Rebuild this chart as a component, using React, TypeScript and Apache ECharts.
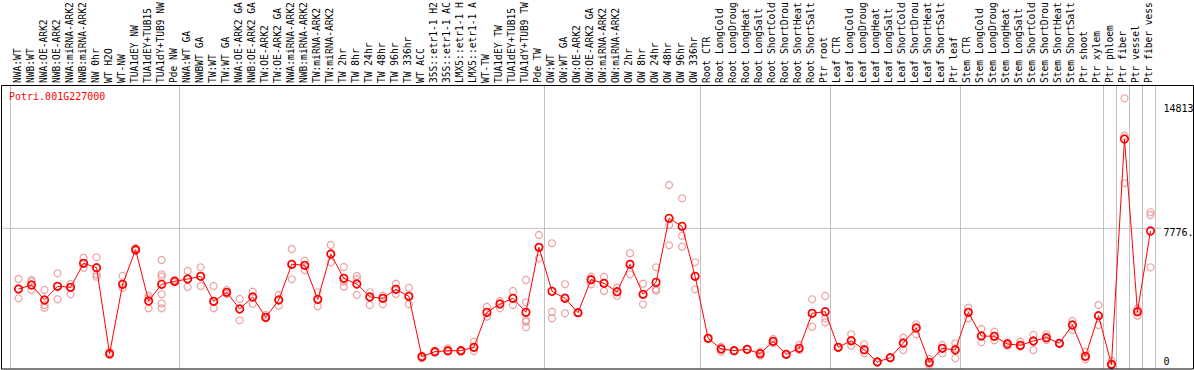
import React, { useEffect, useRef } from "react";
import * as echarts from "echarts";

const geneName = "Potri.001G227000";

const categories = [
  "NWA:WT", "NWB:WT", "NWA:OE-ARK2", "NWB:OE-ARK2", "NWA:miRNA-ARK2", "NWB:miRNA-ARK2",
  "NW 0hr", "WT H2O", "WT-NW", "TUA1dEY NW", "TUA1dEY+TUB15", "TUA1dY+TUB9 NW", "Pde NW",
  "NWA:WT GA", "NWBWT GA", "TW:WT", "TW:WT GA", "NWA:OE-ARK2 GA", "NWB:OE-ARK2 GA",
  "TW:OE-ARK2", "TW:OE-ARK2 GA", "NWA:miRNA-ARK2", "NWB:miRNA-ARK2", "TW:miRNA-ARK2",
  "TW:miRNA-ARK2", "TW 2hr", "TW 8hr", "TW 24hr", "TW 48hr", "TW 96hr", "TW 336hr",
  "WT ACC", "35S::etr1-1 H2", "35S::etr1-1 AC", "LMX5::etr1-1 H", "LMX5::etr1-1 A",
  "WT-TW", "TUA1dEY TW", "TUA1dEY+TUB15", "TUA1dY+TUB9 TW", "Pde TW",
  "OW:WT", "OW:WT GA", "OW:OE-ARK2", "OW:OE-ARK2 GA", "OW:miRNA-ARK2", "OW:miRNA-ARK2",
  "OW 2hr", "OW 8hr", "OW 24hr", "OW 48hr", "OW 96hr", "OW 336hr",
  "Root CTR", "Root LongCold", "Root LongDroug", "Root LongHeat", "Root LongSalt",
  "Root ShortCold", "Root ShortDrou", "Root ShortHeat", "Root ShortSalt", "Ptr root",
  "Leaf CTR", "Leaf LongCold", "Leaf LongDroug", "Leaf LongHeat", "Leaf LongSalt",
  "Leaf ShortCold", "Leaf ShortDrou", "Leaf ShortHeat", "Leaf ShortSalt", "Ptr leaf",
  "Stem CTR", "Stem LongCold", "Stem LongDroug", "Stem LongHeat", "Stem LongSalt",
  "Stem ShortCold", "Stem ShortDrou", "Stem ShortHeat", "Stem ShortSalt", "Ptr shoot",
  "Ptr xylem", "Ptr phloem", "Ptr fiber", "Ptr vessel", "Ptr fiber vess",
];

// index of the first category of each group (separator lines)
const groupStarts = [0, 13, 41, 53, 63, 73, 84, 85, 86, 87];

const means = [
  4348, 4574, 3727, 4500, 4444, 5799, 5551, 695, 4613, 6567, 3670, 4613, 4783,
  4912, 5065, 3653, 4161, 3219, 3896, 2750, 3727, 5743, 5686, 3766, 6324, 4952, 4630, 3896, 3823, 4331, 3936,
  525, 807, 864, 864, 1056, 3032, 3501, 3823, 3032, 6702,
  4218, 3823, 3010, 4873, 4670, 4195, 5743, 4049, 4726, 8340, 7888, 5065,
  1564, 960, 864, 943, 695, 1395, 661, 999, 2976, 3066,
  1056, 1429, 920, 226, 469, 1299, 2146, 209, 999, 903,
  3032, 1694, 1677, 1242, 1169, 1412, 1598, 1282, 2315, 548, 2840,
  96, 12818, 3066, 7623,
];

const rep1 = [
  4912, 4856, 4291, 5234, 4630, 6115, 6138, 807, 5082, 6663, 3969, 5985, 4856,
  5364, 5573, 4517, 4291, 3783, 4195, 2880, 4009, 6606, 5946, 4161, 6832, 5590, 5082, 4161, 3969, 4647, 4421,
  582, 847, 999, 903, 1372, 3348, 3670, 4235, 4856, 7397,
  6928, 4613, 2990, 5042, 5042, 4421, 6364, 4647, 5573, 10220, 9469, 5855,
  1550, 1090, 850, 930, 807, 1525, 650, 1186, 3766, 3953,
  1040, 1790, 1225, 210, 460, 1598, 2355, 395, 1186, 1282,
  3292, 2089, 1937, 1338, 1372, 1750, 1790, 1260, 2541, 807, 3444,
  282, 15116, 2840, 8679,
];

const rep2 = [
  3823, 4760, 3444, 3766, 4049, 5551, 5178, 621, 4421, 6494, 3823, 5178, 4726,
  4461, 4517, 3258, 4066, 2580, 3518, 2693, 3405, 4896, 5421, 3371, 5855, 4760, 4912, 3444, 3484, 4066, 3484,
  435, 751, 807, 807, 847, 2784, 3258, 3444, 3597, 6081,
  3066, 2976, 3030, 4613, 4235, 3969, 5178, 3484, 4348, 7962, 7357, 4331,
  1580, 807, 880, 960, 582, 1282, 680, 903, 2219, 2693,
  1070, 1146, 717, 240, 480, 903, 1790, 150, 717, 435,
  2693, 1338, 1451, 1146, 1090, 903, 1468, 1300, 2033, 378, 2315,
  40, 13004, 3100, 8526,
];

const rep3 = [
  4350, 4291, 3292, 4500, 4444, 5799, 5042, 695, 4613, 6567, 3258, 5042, 4783,
  4912, 5065, 3653, 4161, 3219, 3896, 2750, 3727, 5743, 5686, 3766, 6324, 4478, 4009, 3896, 3823, 4331, 3936,
  525, 807, 864, 864, 1056, 3032, 3501, 3823, 2597, 6702,
  2693, 3880, 3010, 4873, 4670, 4195, 5743, 4049, 4252, 6815, 6736, 5065,
  1564, 960, 864, 943, 695, 1395, 661, 999, 2976, 2467,
  1056, 1429, 920, 226, 469, 1299, 2146, 90, 999, 990,
  3032, 1694, 1677, 1242, 1169, 1412, 1598, 1282, 2315, 548, 2840,
  96, 10316, 3250, 5573,
];

// additional replicates: [category index, value]
const extraReps: [number, number][] = [
  [11, 4049], [11, 3540], [11, 3258],
  [39, 2501], [39, 2185],
];

const gridValue = 7776;
const rightAxisValues = [14813, 7776, 0];
const rightAxisLabels = ["14813", "7776.", "0"];

const yMin = -170;
const yMax = 15867;

export default function App() {
  const ref = useRef<HTMLDivElement>(null);

  useEffect(() => {
    document.body.style.margin = "0";
    const chart = echarts.init(ref.current!, null, { renderer: "svg" });
    const mono = '"DejaVu Sans Mono", "Liberation Mono", monospace';
    const isBoundary = (i: number) => groupStarts.includes(i);
    const sepColor = "#c0c0c0";

    const repPoints: [number, number][] = [];
    [rep1, rep2, rep3].forEach((r) =>
      r.forEach((v, i) => {
        if (v != null) repPoints.push([i, v]);
      })
    );
    extraReps.forEach((p) => repPoints.push(p));

    chart.setOption({
      animation: false,
      title: {
        text: geneName,
        left: 9,
        top: 91,
        padding: 0,
        textStyle: { color: "#ff0000", fontFamily: mono, fontSize: 10, fontWeight: "normal" },
      },
      grid: [
        { left: 10.5, top: 85, width: 1145, height: 284, outerBoundsMode: "none" },
        { left: 12, top: 85, width: 1145, height: 284, outerBoundsMode: "none" },
        { left: 1, top: 85, width: 1160.5, height: 284, outerBoundsMode: "none" },
      ],
      xAxis: [
        {
          gridIndex: 0,
          type: "category",
          data: categories,
          position: "top",
          boundaryGap: true,
          axisLine: { show: false },
          axisTick: { show: true, interval: isBoundary, length: 85, lineStyle: { color: sepColor, width: 1 } },
          splitLine: { show: true, interval: isBoundary, lineStyle: { color: sepColor, width: 1 } },
          axisLabel: {
            show: true,
            interval: 0,
            rotate: 90,
            margin: 2,
            color: "#000",
            fontFamily: mono,
            fontSize: 9.6,
          },
        },
        { gridIndex: 1, type: "category", data: categories, boundaryGap: true, show: false },
        { gridIndex: 2, type: "value", min: 0, max: 1, show: false },
      ],
      yAxis: [
        { gridIndex: 0, type: "value", min: 0, max: 1, show: false },
        { gridIndex: 1, type: "value", min: yMin, max: yMax, show: false },
        { gridIndex: 2, type: "value", min: yMin, max: yMax, show: false },
      ],
      series: [
        {
          type: "line",
          xAxisIndex: 2,
          yAxisIndex: 2,
          data: [
            [0, gridValue],
            [1, gridValue],
          ],
          symbol: "none",
          silent: true,
          z: 1,
          lineStyle: { color: sepColor, width: 1 },
          markLine: {
            silent: true,
            symbol: ["none", "none"],
            lineStyle: { color: "rgba(0,0,0,0)", width: 1, type: "solid" },
            label: {
              show: true,
              position: "end",
              distance: 2,
              color: "#000",
              fontFamily: mono,
              fontSize: 10,
            },
            data: rightAxisValues.map((v, i) => ({
              yAxis: v,
              label: { show: true, formatter: rightAxisLabels[i], offset: [0, v === 0 ? -4.5 : 4.4] },
            })),
          },
        },
        {
          type: "scatter",
          xAxisIndex: 1,
          yAxisIndex: 1,
          data: repPoints,
          symbol: "circle",
          symbolSize: 7,
          silent: true,
          z: 2,
          itemStyle: { color: "rgba(0,0,0,0)", borderColor: "#e88a8a", borderWidth: 1.2 },
        },
        {
          type: "line",
          xAxisIndex: 1,
          yAxisIndex: 1,
          data: means,
          symbol: "circle",
          symbolSize: 7.5,
          showAllSymbol: true,
          silent: true,
          z: 3,
          itemStyle: { color: "rgba(0,0,0,0)", borderColor: "#ff0000", borderWidth: 1.7 },
          lineStyle: { color: "#ff0000", width: 1 },
        },
      ],
      graphic: [
        {
          type: "rect",
          silent: true,
          z: 10,
          shape: { x: 1.5, y: 85.5, width: 1192, height: 283.5 },
          style: { fill: "none", stroke: "#000", lineWidth: 1 },
        },
      ],
    });

    return () => chart.dispose();
  }, []);

  return <div ref={ref} style={{ width: 1194, height: 370 }} />;
}
